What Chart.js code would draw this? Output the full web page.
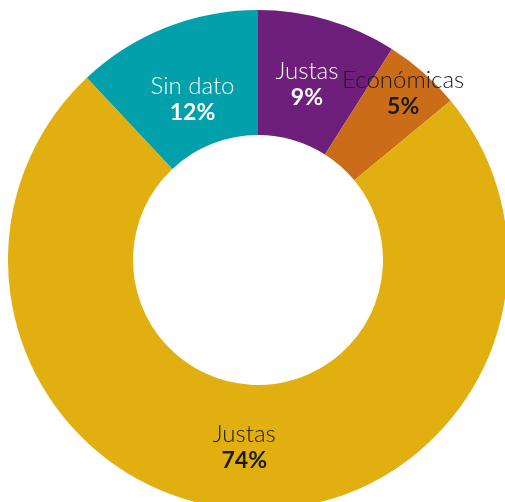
<!DOCTYPE html>
<html>
<head>
<meta charset="utf-8">
<script src="https://cdn.jsdelivr.net/npm/chart.js@4"></script>
<style>
  html, body { margin: 0; padding: 0; background: #fff; overflow: hidden; }
  .chart { position: absolute; left: 8px; top: 10px; width: 500px; height: 500px; }
</style>
</head>
<body>
<div class="chart"><canvas id="dona"></canvas></div>
<script>
const labels = ['Justas', 'Económicas', 'Justas', 'Sin dato'];
const values = [9, 5, 74, 12];
const colors = ['#6E1F7B', '#CB6C18', '#E1AF10', '#01A0AA'];
const textColors = ['#ffffff', '#1a1a1a', '#1a1a1a', '#ffffff'];
// where each label sits, as a share of the outer radius
const labelRadius = [0.73, 0.89, 0.75, 0.69];

const sliceLabels = {
  id: 'sliceLabels',
  afterDatasetsDraw(chart) {
    const ctx = chart.ctx;
    const meta = chart.getDatasetMeta(0);
    meta.data.forEach((arc, i) => {
      const p = arc.getProps(['x', 'y', 'startAngle', 'endAngle', 'outerRadius'], true);
      const mid = (p.startAngle + p.endAngle) / 2;
      const r = p.outerRadius * labelRadius[i];
      const x = p.x + Math.cos(mid) * r;
      const y = p.y + Math.sin(mid) * r;
      ctx.save();
      ctx.textAlign = 'center';
      ctx.textBaseline = 'middle';
      ctx.fillStyle = textColors[i];
      ctx.font = '300 24px Lato';
      ctx.fillText(labels[i], x - 2, y - 13);
      ctx.font = 'bold 23px Lato';
      ctx.fillText(values[i] + '%', x - 2, y + 13);
      ctx.restore();
    });
  }
};

new Chart(document.getElementById('dona'), {
  type: 'doughnut',
  data: {
    labels: labels,
    datasets: [{
      data: values,
      backgroundColor: colors,
      borderWidth: 0
    }]
  },
  options: {
    responsive: true,
    maintainAspectRatio: false,
    animation: false,
    cutout: '50%',
    layout: { padding: 0 },
    plugins: {
      legend: { display: false },
      tooltip: { enabled: false }
    }
  },
  plugins: [sliceLabels]
});
</script>
</body>
</html>
